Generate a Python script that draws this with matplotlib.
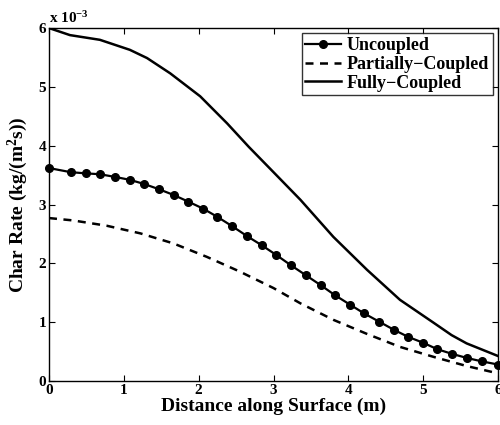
import numpy as np
import matplotlib.pyplot as plt

plt.rcParams['font.family'] = ['Liberation Serif', 'DejaVu Serif']
plt.rcParams['font.weight'] = 'bold'
plt.rcParams['mathtext.fontset'] = 'custom'
plt.rcParams['mathtext.rm'] = 'Liberation Serif:bold'
plt.rcParams['mathtext.default'] = 'rm'

# char rate, units of 1e-3 kg/(m^2 s)
x_unc = [0, 0.29, 0.49, 0.68, 0.88, 1.08, 1.27, 1.47, 1.67, 1.86, 2.06, 2.25,
         2.45, 2.65, 2.84, 3.04, 3.23, 3.43, 3.63, 3.82, 4.02, 4.21, 4.41, 4.61,
         4.80, 5.00, 5.19, 5.39, 5.59, 5.78, 6.0]
y_unc = [3.62, 3.55, 3.53, 3.515, 3.47, 3.42, 3.35, 3.26, 3.16, 3.05, 2.93, 2.79,
         2.63, 2.46, 2.31, 2.14, 1.97, 1.80, 1.63, 1.46, 1.30, 1.15, 1.01, 0.87,
         0.75, 0.65, 0.54, 0.46, 0.39, 0.335, 0.28]

x_part = [0, 0.32, 0.77, 1.22, 1.66, 2.11, 2.55, 3.0, 3.36, 3.80, 4.25, 4.69,
          5.14, 5.58, 6.0]
y_part = [2.77, 2.73, 2.64, 2.51, 2.34, 2.11, 1.86, 1.58, 1.32, 1.04, 0.80, 0.58,
          0.41, 0.255, 0.13]

x_full = [0, 0.28, 0.68, 1.08, 1.31, 1.62, 2.02, 2.38, 2.67, 3.0, 3.36, 3.80, 4.25,
          4.69, 5.14, 5.38, 5.58, 6.0]
y_full = [6.0, 5.88, 5.80, 5.63, 5.49, 5.23, 4.84, 4.38, 3.98, 3.55, 3.08, 2.45, 1.89,
          1.38, 0.99, 0.78, 0.64, 0.425]

fig = plt.figure(figsize=(5, 4.25), dpi=100)
ax = fig.add_axes([0.098, 0.1035, 0.898, 0.8305])

ax.plot(x_unc, y_unc, 'k-o', lw=1.6, ms=5.5, label='Uncoupled', clip_on=False, zorder=3)
ax.plot(x_part, y_part, 'k--', lw=1.8, dashes=(3.2, 2.6), label='Partially\u2212Coupled')
ax.plot(x_full, y_full, 'k-', lw=1.8, label='Fully\u2212Coupled')

ax.set_xlim(0, 6)
ax.set_ylim(0, 6)
ax.set_xticks(range(7))
ax.set_yticks(range(7))
ax.tick_params(direction='in', top=True, right=True, labelsize=11, length=4, width=0.8, pad=2)
for s in ax.spines.values():
    s.set_linewidth(1.0)

ax.set_xlabel('Distance along Surface (m)', fontsize=14, fontweight='bold', labelpad=1)
ax.set_ylabel('Char Rate (kg/(m$^2$s))', fontsize=14, fontweight='bold', labelpad=6)
ax.text(0.0, 1.005, 'x 10$^{-3}$', transform=ax.transAxes, fontsize=11, va='bottom', ha='left')

leg = ax.legend(loc='upper right', fontsize=13, frameon=True, fancybox=False,
                edgecolor='black', borderaxespad=0.3, handlelength=2.0,
                handletextpad=0.3, borderpad=0.2, labelspacing=0.1)
leg.get_frame().set_linewidth(1.0)

plt.savefig('out.png', dpi=100)
